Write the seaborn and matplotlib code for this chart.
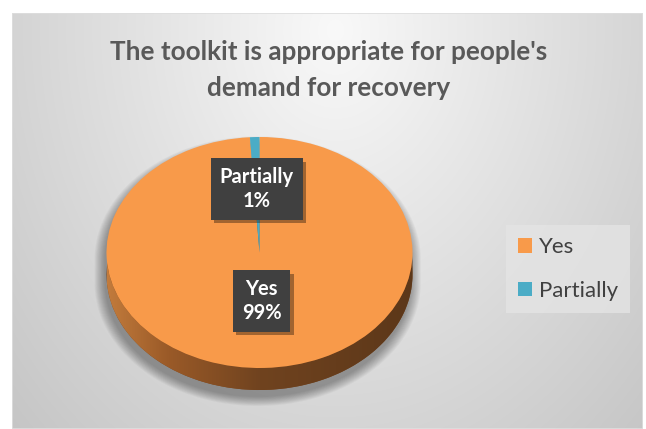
import numpy as np
import matplotlib
matplotlib.use("Agg")
import matplotlib.pyplot as plt
import seaborn as sns
from matplotlib.path import Path
from matplotlib.patches import PathPatch, Rectangle
from matplotlib.colors import LinearSegmentedColormap
import matplotlib.patheffects as pe

# ---- data ----
categories = ["Yes", "Partially"]
shares = [99, 1]
title_lines = ["The toolkit is appropriate for people's", "demand for recovery"]

# ---- style ----
sns.set_theme(style="white")
plt.rcParams["font.family"] = ["Lato", "DejaVu Sans"]
top_colors = sns.color_palette(["#F89A4A", "#4BACC6"])
side_colors = ["#7a4822", "#2f6c7c"]
text_gray = "#595959"

W, H = 646, 429
fig = plt.figure(figsize=(W / 100, H / 100), dpi=100)
fig.patch.set_facecolor("white")


def fig_box(x0, y0, x1, y1):
    """pixel box (top-left origin) -> figure fraction rect"""
    return [x0 / W, 1 - y1 / H, (x1 - x0) / W, (y1 - y0) / H]


# ---- chart area with soft radial gray gradient ----
bx0, by0, bx1, by1 = 12, 13, 643, 429
bg = fig.add_axes(fig_box(bx0, by0, bx1, by1))
yy, xx = np.mgrid[by0:by1, bx0:bx1]
r = np.sqrt(((xx - 335) / 330.0) ** 2 + ((yy - 30) / 420.0) ** 2)
shade = 249 - 38 * np.clip(r, 0, 1.45)
bg.imshow(np.dstack([shade] * 3) / 255.0, aspect="auto", interpolation="bilinear",
          extent=(0, 1, 0, 1))
bg.set_xlim(0, 1)
bg.set_ylim(0, 1)
bg.axis("off")
bg.add_patch(Rectangle((0, 0), 1, 1, transform=bg.transAxes, fill=False,
                       edgecolor="#dedede", linewidth=1.2))

# ---- title ----
fig.text(329 / W, 1 - 52 / H, title_lines[0], ha="center", va="center",
         fontsize=18.8, fontweight="bold", color=text_gray)
fig.text(329 / W, 1 - 88 / H, title_lines[1], ha="center", va="center",
         fontsize=18.8, fontweight="bold", color=text_gray)

# ---- pie geometry (pixels) ----
cx, cy, rx, ry, depth_px = 259.5, 252.5, 153.0, 115.5, 22.0
m = 1.3
d = depth_px / ry
ax = fig.add_axes(fig_box(cx - m * rx, cy - m * ry, cx + m * rx, cy + m * ry + depth_px))
ax.set_facecolor("none")

# soft drop shadow under the cylinder
t_up = np.linspace(0, np.pi, 120)
t_dn = np.linspace(np.pi, 2 * np.pi, 120)
sil = np.vstack([np.column_stack([np.cos(t_up), np.sin(t_up)]),
                 np.column_stack([np.cos(t_dn), np.sin(t_dn) - d])])
for k in range(12):
    s = 1.0 + 0.006 * k
    pts = sil * s + np.array([-0.012, -0.06])
    ax.add_patch(PathPatch(Path(np.vstack([pts, pts[:1]]), closed=True),
                           facecolor="black", edgecolor="none", alpha=0.03, zorder=0))

# side wall: lower pie plus a shaded band
ax.pie(shares, colors=side_colors, startangle=90, counterclock=False,
       center=(0, -d), radius=1.0, wedgeprops=dict(edgecolor="none"))
band = np.vstack([np.column_stack([np.cos(t_dn[::-1]), np.sin(t_dn[::-1])]),
                  np.column_stack([np.cos(t_dn), np.sin(t_dn) - d])])
band_patch = PathPatch(Path(np.vstack([band, band[:1]]), closed=True),
                       facecolor="none", edgecolor="none")
ax.add_patch(band_patch)
side_cmap = LinearSegmentedColormap.from_list(
    "side", [(0, "#c27b3c"), (0.2, "#9a5a28"), (0.5, "#70431f"), (1.0, "#5c3719")])
grad = np.linspace(0, 1, 256)[None, :]
im = ax.imshow(grad, cmap=side_cmap, extent=(-1, 1, -1 - d, 0), aspect="auto",
               zorder=2, interpolation="bilinear")
im.set_clip_path(band_patch)

# top face
wedges, _ = ax.pie(shares, colors=top_colors, startangle=90, counterclock=False,
                   radius=1.0, wedgeprops=dict(edgecolor="none"))
for w in wedges:
    w.set_zorder(3)

ax.set_aspect("auto")
ax.set_xlim(-m, m)
ax.set_ylim(-m - d, m)
ax.axis("off")

# ---- data labels ----
label_dist = [0.42, 0.55]
for w, cat, val, dist in zip(wedges, categories, shares, label_dist):
    mid = np.deg2rad((w.theta1 + w.theta2) / 2)
    t = ax.text(dist * np.cos(mid), dist * np.sin(mid), f"{cat}\n{val}%",
                ha="center", va="center", fontsize=14.5, fontweight="bold",
                color="white", linespacing=1.2, zorder=6,
                bbox=dict(boxstyle="square,pad=0.45", facecolor="#404040",
                          edgecolor="none"))
    t.get_bbox_patch().set_path_effects(
        [pe.SimplePatchShadow(offset=(2.5, -2.5), shadow_rgbFace="black", alpha=0.35),
         pe.Normal()])

# ---- legend ----
leg = fig.legend(wedges, categories, loc="center",
                 bbox_to_anchor=(568 / W, 1 - 269 / H), frameon=True,
                 fontsize=16, labelspacing=1.05, handlelength=0.6, handleheight=0.6,
                 handletextpad=0.32, borderpad=0.55, fancybox=False)
leg.get_frame().set_facecolor("#e4e4e4")
leg.get_frame().set_edgecolor("none")
leg.get_frame().set_alpha(0.8)
for txt in leg.get_texts():
    txt.set_color("#404040")

fig.savefig("out.png", dpi=100, facecolor="white")
